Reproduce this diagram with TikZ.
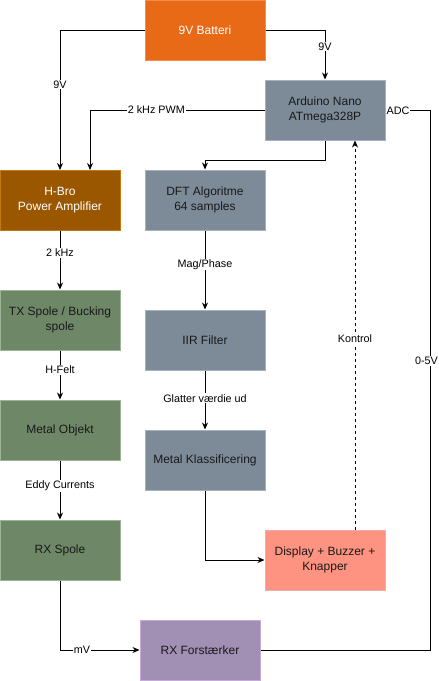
\documentclass[tikz,border=0pt]{standalone}
\usepackage{fontspec}
\setmainfont{Liberation Sans}
\usetikzlibrary{arrows.meta}
\definecolor{batfill}{HTML}{E86A17}
\definecolor{batdraw}{HTML}{F58A4A}
\definecolor{grayfill}{HTML}{7D8B99}
\definecolor{graydraw}{HTML}{A5B3C1}
\definecolor{hbfill}{HTML}{9A5700}
\definecolor{hbdraw}{HTML}{C07A10}
\definecolor{grfill}{HTML}{6E8767}
\definecolor{grdraw}{HTML}{9DB596}
\definecolor{dispfill}{HTML}{FF9381}
\definecolor{dispdraw}{HTML}{F7A8A8}
\definecolor{purfill}{HTML}{A18FB4}
\definecolor{purdraw}{HTML}{C6AAD8}
\begin{document}
\begin{tikzpicture}[x=1pt,y=-1pt,
  box/.style={rectangle,minimum width=120pt,minimum height=60pt,line width=1pt,align=center,font=\fontsize{12}{14.5}\selectfont,text=black!90,inner sep=0pt},
  graybox/.style={box,fill=grayfill,draw=graydraw},
  greenbox/.style={box,fill=grfill,draw=grdraw},
  conn/.style={draw=black,line width=0.9pt,-{Stealth[length=7pt,width=6pt]}},
  lbl/.style={fill=white,font=\fontsize{10.8}{12}\selectfont,inner sep=0.8pt,text=black}]
\useasboundingbox (0,0) rectangle (439,681);
\node[box,fill=batfill,draw=batdraw,text=white] (bat) at (205,30) {9V Batteri};
\node[graybox] (ard) at (325,110) {Arduino Nano\\ATmega328P};
\node[box,fill=hbfill,draw=hbdraw,text=white] (hb) at (60,200) {H-Bro\\Power Amplifier};
\node[graybox] (dft) at (205,200) {DFT Algoritme\\64 samples};
\node[greenbox] (tx) at (60,320) {TX Spole / Bucking\\spole};
\node[graybox] (iir) at (205,340) {IIR Filter};
\node[greenbox] (mo) at (60,430) {Metal Objekt};
\node[graybox] (mk) at (205,460) {Metal Klassificering};
\node[greenbox] (rx) at (60,550) {RX Spole};
\node[box,fill=dispfill,draw=dispdraw] (disp) at (325,560) {Display + Buzzer +\\Knapper};
\node[box,fill=purfill,draw=purdraw] (rxf) at (200,650) {RX Forstærker};
\coordinate (c1) at (430,650);
\coordinate (c2) at (430,110);
% battery edges
\draw[conn] (bat.west) -| node[lbl,pos=0.695] {9V} (60,170);
\draw[conn] (bat.east) -| node[lbl,pos=0.67] {9V} (ard.north);
% PWM
\draw[conn] (ard.west) -| node[lbl,pos=0.31] {2 kHz PWM} (90,170);
% Arduino -> DFT
\draw[conn] (ard.south) -- (325,160) -| (dft.north);
% left chain
\draw[conn] (hb.south) -- node[lbl,pos=0.38] {2 kHz} (tx.north);
\draw[conn] (tx.south) -- node[lbl,pos=0.4] {H-Felt} (mo.north);
\draw[conn] (mo.south) -- node[lbl,pos=0.43] {Eddy Currents} (rx.north);
% middle chain
\draw[conn] (dft.south) -- node[lbl,pos=0.43] {Mag/Phase} (iir.north);
\draw[conn] (iir.south) -- node[lbl,pos=0.47] {Glatter værdie ud} (mk.north);
\draw[conn] (mk.south) |- (disp.west);
% RX
\draw[conn] (rx.south) |- (rxf.west);
\node[lbl] at (82,650) {mV};
\draw[conn] (rxf.east) -- (c1) -- (c2) -- (ard.east);
\node[lbl] at (426.5,361) {0-5V};
\node[lbl] at (398,111) {ADC};
% control
\draw[conn,dashed] (disp.north -| 355,0) -- node[lbl,pos=0.49] {Kontrol} (ard.south -| 355,0);
\end{tikzpicture}
\end{document}
